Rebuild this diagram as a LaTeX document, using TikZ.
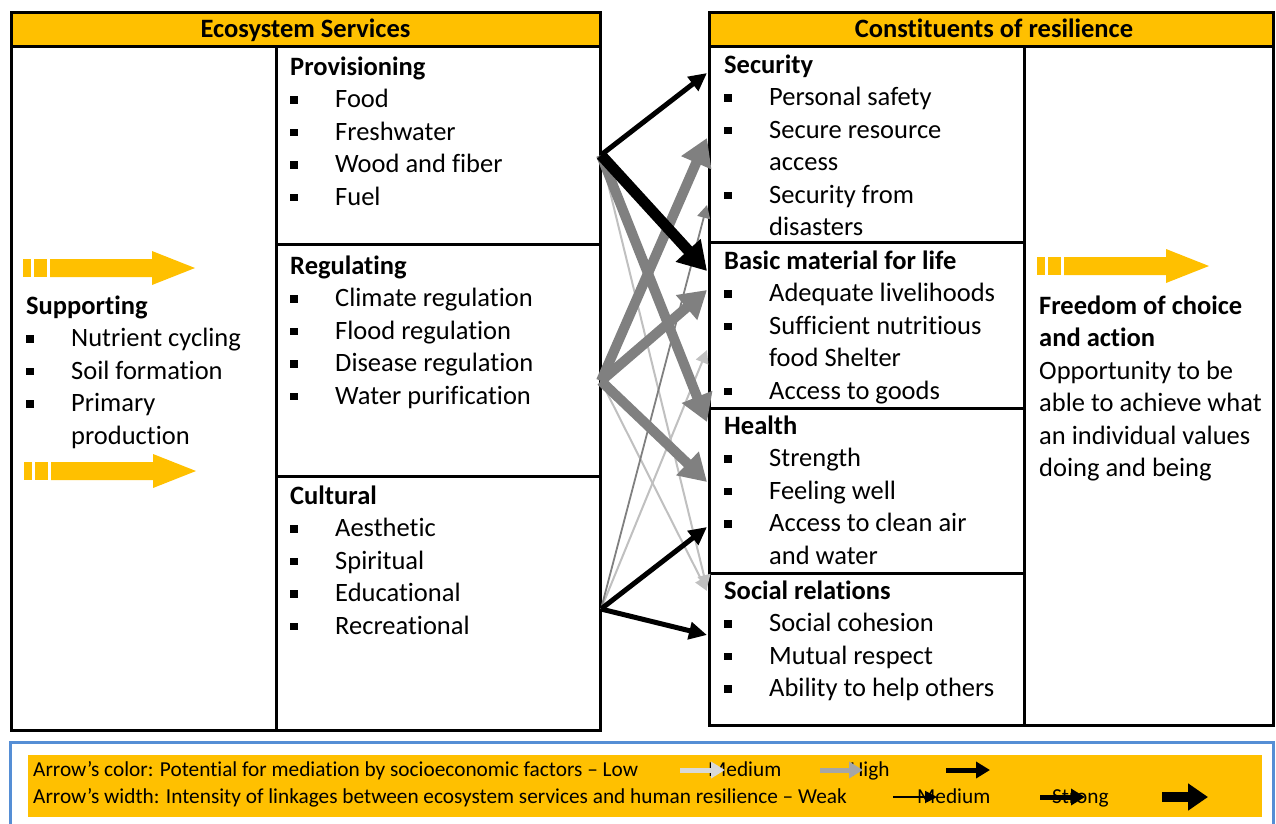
\documentclass[tikz,border=0pt]{standalone}
\usepackage{fontspec}
\setmainfont{Carlito}[Ligatures=NoCommon]
\usetikzlibrary{arrows.meta}
\definecolor{ygold}{HTML}{FFC000}
\definecolor{arrgray}{HTML}{808080}
\definecolor{arrlight}{HTML}{C0C0C0}
\definecolor{legblue}{HTML}{558ED5}
\definecolor{leglight}{HTML}{D9D9D9}
\definecolor{legmid}{HTML}{A6A6A6}
\newcommand{\bitem}[1]{\makebox[45pt][l]{\rule[4pt]{7.5pt}{7.5pt}}#1}
\newcommand{\bcont}[1]{\hspace*{45pt}#1}
\newcommand{\yarr}[2]{%
  \begin{scope}[shift={(#1,#2)}]
    \fill[ygold] (0,-9) rectangle (8,9);
    \fill[ygold] (11,-9) rectangle (24,9);
    \fill[ygold] (27,-9) -- (129,-9) -- (129,-17) -- (172,0) -- (129,17) -- (129,9) -- (27,9) -- cycle;
  \end{scope}}
\begin{document}
\begin{tikzpicture}[x=1pt,y=-1pt,
  boxline/.style={line width=3pt},
  txt/.style={anchor=north west, inner sep=0pt, align=left, font=\fontsize{26.5}{32.5}\selectfont},
  hdr/.style={anchor=base, inner sep=0pt, font=\fontsize{26.5}{32.5}\selectfont\bfseries},
  legtxt/.style={anchor=base west, inner sep=0pt, font=\fontsize{21.3}{27}\selectfont},
  arrBM/.style={line width=5pt, black, -{Triangle[length=18pt,width=17pt]}},
  arrBT/.style={line width=11pt, black, -{Triangle[length=28pt,width=32pt]}},
  arrGT/.style={line width=10pt, arrgray, -{Triangle[length=27pt,width=31pt]}},
  arrLT/.style={line width=2pt, arrlight, -{Triangle[length=13pt,width=13pt]}},
  arrDT/.style={line width=1.8pt, arrgray, -{Triangle[length=13pt,width=13pt]}},
  legL/.style={line width=5pt, leglight, -{Triangle[length=14pt,width=16pt]}},
  legM/.style={line width=5pt, legmid, -{Triangle[length=14pt,width=16pt]}},
  legH/.style={line width=5pt, black, -{Triangle[length=14pt,width=16pt]}},
  legW1/.style={line width=1.8pt, black, -{Triangle[length=12pt,width=12pt]}},
  legW2/.style={line width=5pt, black, -{Triangle[length=14pt,width=16pt]}},
  legW3/.style={line width=10pt, black, -{Triangle[length=20pt,width=26pt]}}
]
\useasboundingbox (0,0) rectangle (1276,823);
\fill[white] (0,0) rectangle (1276,823);

% ---------- left block ----------
\fill[ygold] (11,12) rectangle (600,46);
\draw[boxline] (11,12) rectangle (600,730);
\draw[boxline] (11,46) -- (600,46);
\draw[boxline] (276,46) -- (276,730);
\draw[boxline] (276,244) -- (600,244);
\draw[boxline] (276,476) -- (600,476);
\node[hdr] (eshdr) at (305.5,37.5) {Ecosystem Services};

\node[txt] (supp) at (26,291.5) {\strut\textbf{Supporting}\\ \bitem{Nutrient cycling}\\ \bitem{Soil formation}\\ \bitem{Primary}\\ \bcont{production}};
\node[txt] (prov) at (290,52.5) {\strut\textbf{Provisioning}\\ \bitem{Food}\\ \bitem{Freshwater}\\ \bitem{Wood and fiber}\\ \bitem{Fuel}};
\node[txt] (regu) at (290,251.5) {\strut\textbf{Regulating}\\ \bitem{Climate regulation}\\ \bitem{Flood regulation}\\ \bitem{Disease regulation}\\ \bitem{Water purification}};
\node[txt] (cult) at (290,481.5) {\strut\textbf{Cultural}\\ \bitem{Aesthetic}\\ \bitem{Spiritual}\\ \bitem{Educational}\\ \bitem{Recreational}};

\yarr{23}{268}
\yarr{24}{471}

% ---------- right block ----------
\fill[ygold] (709,12) rectangle (1273,46);
\draw[boxline] (709,12) rectangle (1273,725);
\draw[boxline] (709,46) -- (1273,46);
\draw[boxline] (1024,46) -- (1024,725);
\draw[boxline] (709,242) -- (1024,242);
\draw[boxline] (709,408) -- (1024,408);
\draw[boxline] (709,573) -- (1024,573);
\node[hdr] (crhdr) at (994,37.5) {Constituents of resilience};

\node[txt] (secu) at (724,50.5) {\strut\textbf{Security}\\ \bitem{Personal safety}\\ \bitem{Secure resource}\\ \bcont{access}\\ \bitem{Security from}\\ \bcont{disasters}};
\node[txt] (basi) at (724,246.5) {\strut\textbf{Basic material for life}\\ \bitem{Adequate livelihoods}\\ \bitem{Sufficient nutritious}\\ \bcont{food Shelter}\\ \bitem{Access to goods}};
\node[txt] (heal) at (724,411.5) {\strut\textbf{Health}\\ \bitem{Strength}\\ \bitem{Feeling well}\\ \bitem{Access to clean air}\\ \bcont{and water}};
\node[txt] (soci) at (724,576.5) {\strut\textbf{Social relations}\\ \bitem{Social cohesion}\\ \bitem{Mutual respect}\\ \bitem{Ability to help others}};
\node[txt] (free) at (1039,291.5) {\strut\textbf{Freedom of choice}\\ \textbf{and action}\\ Opportunity to be\\ able to achieve what\\ an individual values\\ doing and being};

\yarr{1037}{266}

% ---------- connectors ----------
\coordinate (pS) at (601,155);
\coordinate (rS) at (601,381);
\coordinate (cS) at (601,609);
\coordinate (tSec1) at (707,73);
\coordinate (tSec2) at (707,138);
\coordinate (tSec3) at (707,205);
\coordinate (tBas1) at (707,271);
\coordinate (tBas2) at (707,290);
\coordinate (tBas3) at (707,350);
\coordinate (tHea1) at (707,422);
\coordinate (tHea2) at (707,482);
\coordinate (tHea3) at (707,527);
\coordinate (tSoc1) at (707,588);
\coordinate (tSoc2) at (707,591);
\coordinate (tSoc3) at (707,635);

\draw[arrLT] (pS) -- (tSoc1);
\draw[arrLT] (rS) -- (tSoc2);
\draw[arrLT] (cS) -- (tBas3);
\draw[arrDT] (cS) -- (tSec3);
\draw[arrGT] (rS) -- (tSec2);
\draw[arrGT] (rS) -- (tBas2);
\draw[arrGT] (rS) -- (tHea2);
\draw[arrGT] (pS) -- (tHea1);
\draw[arrBM] (pS) -- (tSec1);
\draw[arrBT] (pS) -- (tBas1);
\draw[arrBM] (cS) -- (tHea3);
\draw[arrBM] (cS) -- (tSoc3);

% ---------- legend ----------
\draw[legblue, line width=3pt] (10,742) rectangle (1273,850);
\fill[ygold] (28,755) rectangle (1262,817);
\node[legtxt] (lg1) at (33,776) {Arrow’s color: Potential for mediation by socioeconomic factors – Low};
\node[legtxt] (lg1m) at (708,776) {Medium};
\node[legtxt] (lg1h) at (850,776) {High};
\node[legtxt] (lg2) at (33,803) {Arrow’s width: Intensity of linkages between ecosystem services and human resilience – Weak};
\node[legtxt] (lg2m) at (917,803) {Medium};
\node[legtxt] (lg2s) at (1052,803) {Strong};

\coordinate (la1) at (680,770); \coordinate (lb1) at (725,770);
\coordinate (la2) at (820,770); \coordinate (lb2) at (863,770);
\coordinate (la3) at (946,770); \coordinate (lb3) at (990,770);
\coordinate (lc1) at (893,797); \coordinate (ld1) at (937,797);
\coordinate (lc2) at (1040,797); \coordinate (ld2) at (1085,797);
\coordinate (lc3) at (1162,797); \coordinate (ld3) at (1208,797);
\draw[legL] (la1) -- (lb1);
\draw[legM] (la2) -- (lb2);
\draw[legH] (la3) -- (lb3);
\draw[legW1] (lc1) -- (ld1);
\draw[legW2] (lc2) -- (ld2);
\draw[legW3] (lc3) -- (ld3);
\end{tikzpicture}
\end{document}
